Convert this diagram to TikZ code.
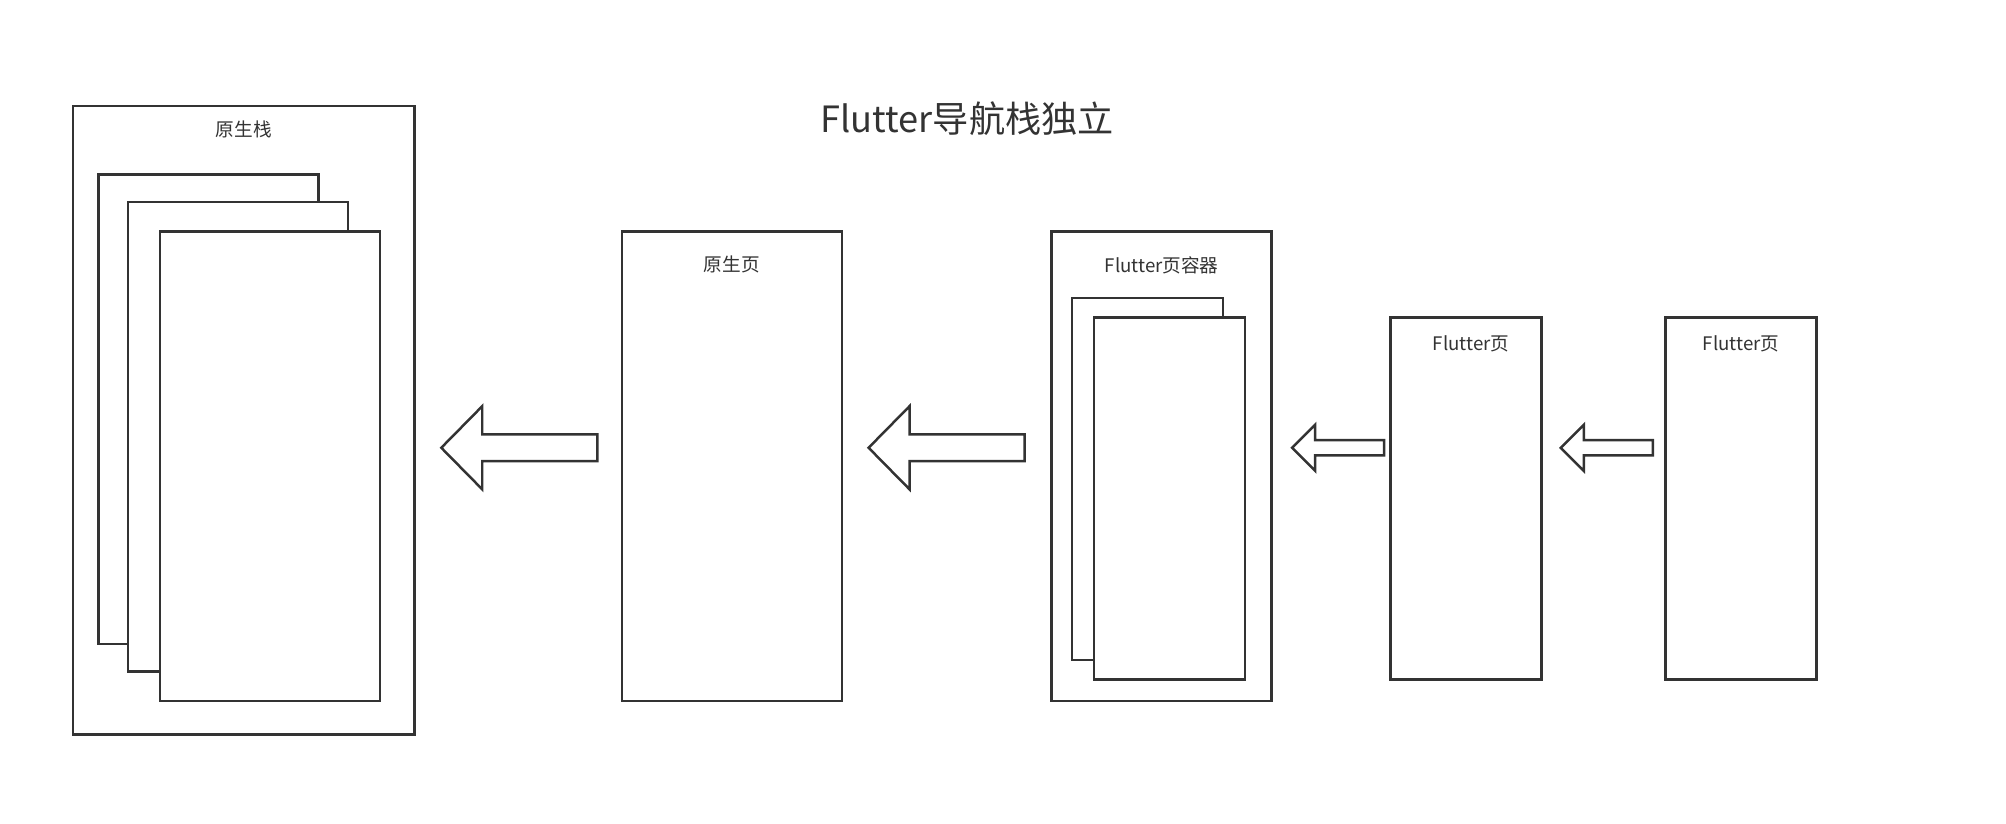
\documentclass[tikz,border=0pt]{standalone}
\usepackage{fontspec}
\setmainfont{Noto Sans CJK SC}
\usepackage{tikz}
\usetikzlibrary{calc}
\definecolor{ink}{RGB}{51, 51, 51}

\begin{document}
\begin{tikzpicture}[x=0.02cm, y=-0.02cm,
    page/.style={draw=ink, line width=1.1pt, fill=white, inner sep=0pt},
    tall/.style={page, minimum width=3.44cm, minimum height=7.34cm},
    slim/.style={page, minimum width=2.36cm, minimum height=5.66cm},
    lbl/.style={text=ink, font=\fontsize{8.3pt}{10pt}\selectfont, inner sep=0pt},
    hollow/.style={draw=ink, line width=1.1pt, fill=white, line join=miter}]
            \useasboundingbox (0,0) rectangle (1568,644);
            % title
            \node[text=ink, font=\fontsize{16.1pt}{20pt}\selectfont] (title) at (756,93) {Flutter导航栈独立};
            % native stack
            \node[page, minimum width=5.34cm, minimum height=9.82cm] (stack) at (190.5,328.5) {};
            \node[lbl] (stacklbl) at ($(stack.north)+(0,19)$) {原生栈};
            \node[tall] (card1) at (163,320) {};
            \node[tall] (card2) at (186,341.5) {};
            \node[tall] (card3) at (211,364.5) {};
            % native page
            \node[tall] (native) at (572,364.5) {};
            \node[lbl] (nativelbl) at ($(native.north)+(0,27)$) {原生页};
            % flutter container
            \node[tall] (box) at (908,364.5) {};
            \node[lbl] (boxlbl) at ($(box.north)+(0,27)$) {Flutter页容器};
            \node[slim] (inner1) at (897,374.5) {};
            \node[slim] (inner2) at (914,389.5) {};
            % flutter pages
            \node[slim] (fpage1) at (1146,389.5) {};
            \node[lbl] (fpage1lbl) at ($(fpage1.north)+(4,22)$) {Flutter页};
            \node[slim] (fpage2) at (1361,389.5) {};
            \node[lbl] (fpage2lbl) at ($(fpage2.north)+(0,22)$) {Flutter页};
            % block arrows
            \coordinate (tip1) at ($(stack.east)+(20,21.5)$);
            \coordinate (tip2) at ($(native.east)+(20,-14.5)$);
            \coordinate (tip3) at ($(box.east)+(15,-14.5)$);
            \coordinate (tip4) at ($(fpage1.east)+(14,-39.5)$);
            \draw[hollow] (tip1) -- ++(32,-32.5) -- ++(0,22) -- ++(90,0) -- ++(0,21) -- ++(-90,0) -- ++(0,22) -- cycle;
            \draw[hollow] (tip2) -- ++(32,-32.5) -- ++(0,22) -- ++(90,0) -- ++(0,21) -- ++(-90,0) -- ++(0,22) -- cycle;
            \draw[hollow] (tip3) -- ++(18,-18) -- ++(0,12) -- ++(54,0) -- ++(0,12) -- ++(-54,0) -- ++(0,12) -- cycle;
            \draw[hollow] (tip4) -- ++(18,-18) -- ++(0,12) -- ++(54,0) -- ++(0,12) -- ++(-54,0) -- ++(0,12) -- cycle;
        \end{tikzpicture}
\end{document}
